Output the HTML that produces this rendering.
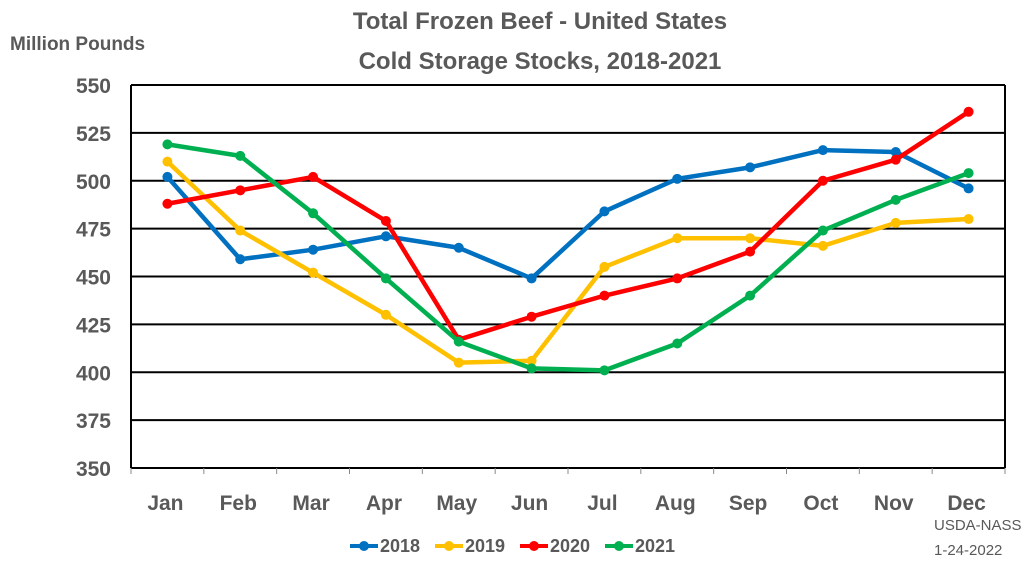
<!DOCTYPE html>
<html><head><meta charset="utf-8"><style>
html,body{margin:0;padding:0;background:#fff;}
svg{display:block;font-family:"Liberation Sans",Calibri,sans-serif;}
</style></head><body>
<svg id="c" width="1024" height="568" viewBox="0 0 1024 568" xmlns="http://www.w3.org/2000/svg">
<rect width="1024" height="568" fill="#fff"/>
<g fill="#595959" font-weight="bold">
<text x="540" y="29" font-size="24" text-anchor="middle">Total Frozen Beef - United States</text>
<text x="540" y="69" font-size="24" text-anchor="middle">Cold Storage Stocks, 2018-2021</text>
<text x="10" y="50" font-size="19">Million Pounds</text>
</g>
<g id="grid" stroke="#000" stroke-width="2"></g>
<g id="ylab" fill="#595959" font-size="21" font-weight="bold" text-anchor="end"></g>
<g id="xlab" fill="#595959" font-size="21" font-weight="bold" text-anchor="middle"></g>
<g id="series"></g>
<g fill="#595959" font-size="15">
<text x="934" y="530">USDA-NASS</text>
<text x="934" y="555">1-24-2022</text>
</g>
<g id="legend" font-size="18" font-weight="bold" fill="#595959"></g>
</svg>
<script>
const NS="http://www.w3.org/2000/svg";
function el(p,t,a,txt){const e=document.createElementNS(NS,t);for(const k in a)e.setAttribute(k,a[k]);if(txt)e.textContent=txt;document.getElementById(p).appendChild(e);return e;}
const L=131,R=1005,T=85,B=468;
const y=v=>B-(v-350)*(B-T)/200;
const cw=(R-L)/12;const x=i=>L+cw*(i+0.5);
for(let v=350;v<=550;v+=25){el('grid','line',{x1:L,x2:R,y1:y(v),y2:y(v)});el('ylab','text',{x:111,y:y(v)+8},String(v));}
el('grid','line',{x1:L,x2:L,y1:T,y2:B});el('grid','line',{x1:R,x2:R,y1:T,y2:B});
for(let i=0;i<=12;i++){el('grid','line',{x1:L+cw*i,x2:L+cw*i,y1:B,y2:B+6,'stroke-width':1,stroke:'#888'});}
const m=['Jan','Feb','Mar','Apr','May','Jun','Jul','Aug','Sep','Oct','Nov','Dec'];
m.forEach((t,i)=>el('xlab','text',{x:x(i)-2,y:510},t));
const S=[['2018','#0070C0',[502,459,464,471,465,449,484,501,507,516,515,496]],
['2019','#FFC000',[510,474,452,430,405,406,455,470,470,466,478,480]],
['2020','#FF0000',[488,495,502,479,417,429,440,449,463,500,511,536]],
['2021','#00B050',[519,513,483,449,416,402,401,415,440,474,490,504]]];
S.forEach(([n,c,d])=>{
el('series','polyline',{points:d.map((v,i)=>x(i)+','+y(v)).join(' '),fill:'none',stroke:c,'stroke-width':4.5,'stroke-linejoin':'round'});
d.forEach((v,i)=>el('series','circle',{cx:x(i),cy:y(v),r:5,fill:c}));
});
const lx=[350,435,520,605];
S.forEach(([n,c],k)=>{const X=lx[k];
el('legend','line',{x1:X,x2:X+28,y1:546,y2:546,stroke:c,'stroke-width':4});
el('legend','circle',{cx:X+14,cy:546,r:5,fill:c});
el('legend','text',{x:X+30,y:552},n);});
</script>
</body></html>
